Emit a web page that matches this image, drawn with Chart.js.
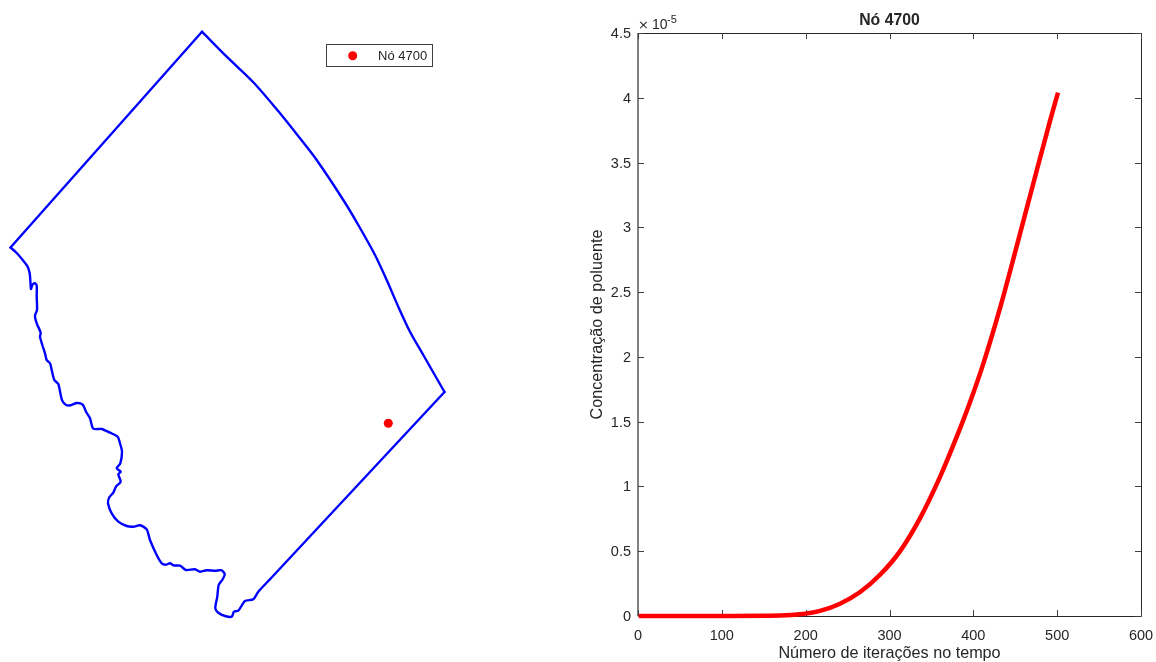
<html>
    <head>
        <style>
            body { margin: 0; background: #fff; }
            #mapChart { position: absolute; left: 0; top: 0; }
            #concChart { position: absolute; left: 560px; top: 0; }
        </style>
    </head>
    <body>
        <canvas id="mapChart" width="560" height="662"></canvas>
        <canvas id="concChart" width="596" height="662"></canvas>

        <script src="https://cdn.jsdelivr.net/npm/chart.js"></script>
        <script>
            var riverX = [10.5, 16.7, 23.3, 27.7, 29.7, 30.3, 31, 32.3, 35, 36.7, 36.7, 37, 35, 36.7, 40.7, 40, 42.3, 45, 46.7, 50, 51.7, 54.3, 58.3, 60.7, 62.3, 65.7, 70.7, 76.7, 82.7, 86, 90, 93.3, 101.7, 110, 117.7, 120, 122, 120.3, 116.7, 120.7, 118.3, 120.7, 116, 113.3, 109.3, 108, 111.7, 118.3, 126.7, 133.3, 140, 146.7, 150, 156.7, 161.7, 166, 170, 173.3, 180, 186, 195, 200, 206.7, 215, 221.7, 224.7, 222.7, 218.7, 217.3, 215.3, 218.3, 225, 231.7, 234, 238.3, 245, 253.3, 258.3, 270];
            var riverY = [247.5, 253, 260.7, 266.7, 273.3, 280, 289, 285, 283.3, 285.7, 296.7, 310, 315.7, 323.3, 332.7, 336.7, 345, 353.3, 360, 363.3, 370, 380, 384, 395, 400.7, 404.7, 405.3, 403, 404.7, 411.7, 418.3, 428.7, 429, 432.7, 436.7, 443.3, 451.7, 463.3, 468.3, 471.7, 474.3, 481.7, 486.7, 492.7, 497.3, 503.3, 513.3, 521.7, 526, 526.7, 525.3, 529.3, 540, 555, 563.3, 564.7, 563.3, 565.3, 565.7, 570, 569.3, 571.7, 570.3, 570.7, 570.3, 574, 579.3, 585, 596.7, 608.3, 612.7, 616, 616.7, 611.7, 610.7, 601, 599.3, 591.7, 579.3];
            var arcX = [444.5, 423.3, 410, 398.3, 386.7, 375, 358.3, 343.3, 316.7, 300, 280, 253.3, 226.7, 202];
            var arcY = [392, 355, 331.7, 306.7, 280, 255, 225, 200, 160, 138.3, 113.3, 82.3, 56.7, 31.7];
            var edgeAX = [202, 10.5];
            var edgeAY = [31.7, 247.5];
            var edgeBX = [270, 444.5];
            var edgeBY = [579.3, 392];
            var nodeX = [388.3];
            var nodeY = [423.3];
            var nodeLabel = "Nó 4700";

            // concentration curve, values in units of 1e-5
            var iterations = [1, 50, 100, 150, 175, 193, 217, 241, 265, 289, 312, 336, 360, 380, 396, 412, 432, 452, 472, 491, 501];
            var concentration = [0, 0, 0, 0.001, 0.005, 0.013, 0.04, 0.095, 0.185, 0.32, 0.495, 0.75, 1.07, 1.38, 1.65, 1.95, 2.38, 2.86, 3.35, 3.81, 4.04];
            var xTicks = [0, 100, 200, 300, 400, 500, 600];
            var yTicks = [0, 0.5, 1, 1.5, 2, 2.5, 3, 3.5, 4, 4.5];

            var fontName = "'Liberation Sans', Arial, sans-serif";
            var textColor = "#262626";

            function toPoints(xs, ys) {
                return xs.map(function (x, i) { return { x: x, y: ys[i] }; });
            }

            function outlineSet(xs, ys, tension) {
                return {
                    data: toPoints(xs, ys),
                    showLine: true,
                    borderColor: "#0000ff",
                    borderWidth: 2.4,
                    borderCapStyle: "round",
                    borderJoinStyle: "round",
                    pointRadius: 0,
                    tension: tension
                };
            }

            // legend box of the left panel
            var legendBox = {
                id: "legendBox",
                afterDraw: function (chart) {
                    var c = chart.ctx;
                    c.save();
                    c.strokeStyle = "#404040";
                    c.lineWidth = 1;
                    c.strokeRect(326.5, 44.5, 106, 22);
                    c.fillStyle = "#ff0000";
                    c.beginPath();
                    c.arc(352.7, 55.7, 4.5, 0, Math.PI * 2);
                    c.fill();
                    c.fillStyle = textColor;
                    c.font = "13px " + fontName;
                    c.textBaseline = "middle";
                    c.fillText(nodeLabel, 378, 56.5);
                    c.restore();
                }
            };

            var mapChart = new Chart(document.getElementById("mapChart").getContext("2d"), {
                type: "scatter",
                data: {
                    datasets: [
                        {
                            label: nodeLabel,
                            data: toPoints(nodeX, nodeY),
                            pointRadius: 4.5,
                            pointBackgroundColor: "#ff0000",
                            pointBorderWidth: 0
                        },
                        outlineSet(riverX, riverY, 0.25),
                        outlineSet(arcX, arcY, 0.3),
                        outlineSet(edgeAX, edgeAY, 0),
                        outlineSet(edgeBX, edgeBY, 0)
                    ]
                },
                options: {
                    responsive: false,
                    animation: false,
                    layout: { padding: 0, autoPadding: false },
                    plugins: { legend: { display: false }, tooltip: { enabled: false } },
                    scales: {
                        x: { display: false, min: 0, max: 560 },
                        y: { display: false, min: 0, max: 662, reverse: true }
                    }
                },
                plugins: [legendBox]
            });

            // matlab style box with inward ticks, plus the exponent note
            var axesBox = {
                id: "axesBox",
                beforeDatasetsDraw: function (chart) {
                    var c = chart.ctx, a = chart.chartArea;
                    var sx = chart.scales.x, sy = chart.scales.y;
                    var left = Math.round(a.left), right = Math.round(a.right);
                    var top = Math.round(a.top), bottom = Math.round(a.bottom);
                    c.save();
                    c.lineWidth = 1;
                    c.strokeStyle = textColor;
                    c.beginPath();
                    c.moveTo(left, top + 0.5); c.lineTo(right + 0.5, top + 0.5);
                    c.lineTo(right + 0.5, bottom + 0.5); c.lineTo(left, bottom + 0.5);
                    c.stroke();
                    c.strokeStyle = "#808080";
                    c.lineWidth = 2;
                    c.beginPath();
                    c.moveTo(left, top); c.lineTo(left, bottom);
                    c.stroke();
                    c.lineWidth = 1;
                    c.strokeStyle = "#404040";
                    c.beginPath();
                    xTicks.forEach(function (v) {
                        var px = Math.round(sx.getPixelForValue(v)) + 0.5;
                        c.moveTo(px, top); c.lineTo(px, top + 6);
                        c.moveTo(px, bottom); c.lineTo(px, bottom - 6);
                    });
                    yTicks.forEach(function (v) {
                        var py = Math.round(sy.getPixelForValue(v)) + 0.5;
                        c.moveTo(left, py); c.lineTo(left + 6, py);
                        c.moveTo(right, py); c.lineTo(right - 6, py);
                    });
                    c.stroke();
                    c.fillStyle = textColor;
                    c.font = "13px 'DejaVu Sans', " + fontName;
                    c.fillText("×", left, top - 4);
                    c.font = "14px " + fontName;
                    c.fillText("10", left + 14, top - 4.5);
                    c.font = "11px " + fontName;
                    c.fillText("-5", left + 29, top - 10);
                    c.restore();
                }
            };

            var concChart = new Chart(document.getElementById("concChart").getContext("2d"), {
                type: "line",
                data: {
                    datasets: [
                        {
                            label: nodeLabel,
                            data: toPoints(iterations, concentration),
                            borderColor: "#ff0000",
                            borderWidth: 4.5,
                            pointRadius: 0,
                            cubicInterpolationMode: "monotone",
                            clip: 6
                        }
                    ]
                },
                options: {
                    responsive: false,
                    animation: false,
                    layout: { padding: { top: 0, right: 15, bottom: 0, left: 0 }, autoPadding: false },
                    plugins: {
                        legend: { display: false },
                        tooltip: { enabled: false },
                        title: {
                            display: true,
                            fullSize: false,
                            text: nodeLabel,
                            color: textColor,
                            font: { family: fontName, size: 15.8, weight: "bold", lineHeight: 1.2 },
                            padding: { top: 11, bottom: 3 }
                        }
                    },
                    scales: {
                        x: {
                            type: "linear",
                            min: 0,
                            max: 600,
                            grid: { display: false, drawTicks: false },
                            border: { display: false },
                            afterBuildTicks: function (s) { s.ticks = xTicks.map(function (v) { return { value: v }; }); },
                            afterFit: function (s) { s.height = 46; s.paddingRight = 12; },
                            ticks: {
                                color: textColor,
                                padding: 11,
                                maxRotation: 0,
                                autoSkip: false,
                                font: { family: fontName, size: 14.5 },
                                callback: function (v) { return String(v); }
                            },
                            title: {
                                display: true,
                                text: "Número de iterações no tempo",
                                color: textColor,
                                font: { family: fontName, size: 16.2 },
                                padding: { top: 0, bottom: -1 }
                            }
                        },
                        y: {
                            min: 0,
                            max: 4.5,
                            grid: { display: false, drawTicks: false },
                            border: { display: false },
                            afterBuildTicks: function (s) { s.ticks = yTicks.map(function (v) { return { value: v }; }); },
                            afterFit: function (s) { s.width = 78; },
                            ticks: {
                                color: textColor,
                                padding: 7,
                                autoSkip: false,
                                labelOffset: 1,
                                font: { family: fontName, size: 14.5 },
                                callback: function (v) { return String(v); }
                            },
                            title: {
                                display: true,
                                text: "Concentração de poluente",
                                color: textColor,
                                font: { family: fontName, size: 16.2 },
                                padding: { top: 28, bottom: 0 }
                            }
                        }
                    }
                },
                plugins: [axesBox]
            });
        </script>
    </body>
</html>
